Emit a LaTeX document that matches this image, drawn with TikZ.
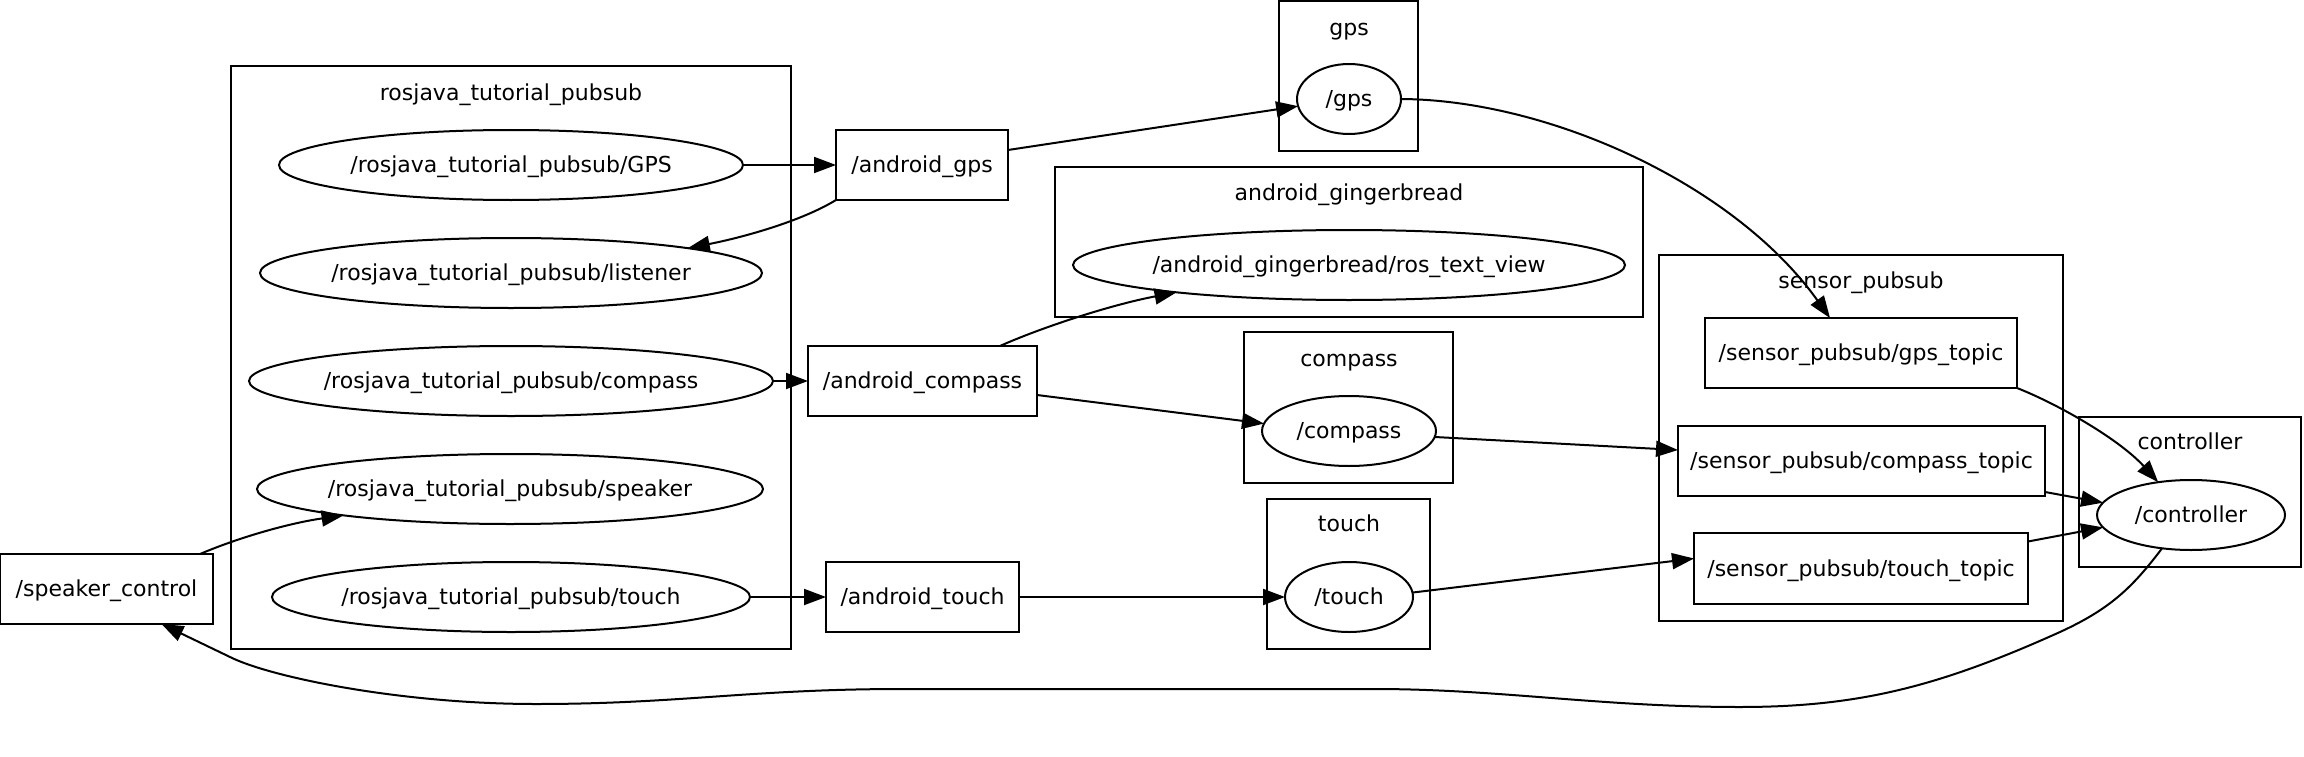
\documentclass[tikz,border=0pt]{standalone}
\usepackage{fontspec}
\setmainfont{DejaVu Sans}
\usetikzlibrary{arrows.meta,shapes.geometric}
\newcommand\gvfont{\fontsize{22}{26}\selectfont}
\tikzset{
  box/.style={draw, rectangle, line width=2pt, inner sep=0pt, outer sep=0pt, minimum height=70pt, text height=20pt, text depth=5pt, font=\gvfont},
  topic/.style={draw, ellipse, line width=2pt, inner xsep=-20pt, inner ysep=0pt, outer sep=0pt, minimum height=70pt, text height=20pt, text depth=5pt, font=\gvfont},
  edge/.style={line width=2pt, -{Triangle[length=22pt,width=16pt]}},
  clus/.style={draw, line width=2pt},
  clabel/.style={font=\gvfont, inner sep=0pt, text height=20pt, text depth=5pt}
}
\begin{document}
\begin{tikzpicture}[x=1pt,y=-1pt]
\useasboundingbox (0,0) rectangle (2304,757);
% clusters
\draw[clus] (231,66) rectangle (791,649);
\node[clabel] (lrj) at (511,93) {rosjava\_tutorial\_pubsub};
\draw[clus] (1279,1) rectangle (1418,151);
\node[clabel] (lgps) at (1349,28) {gps};
\draw[clus] (1055,167) rectangle (1643,317);
\node[clabel] (lag) at (1349,193) {android\_gingerbread};
\draw[clus] (1244,332) rectangle (1453,483);
\node[clabel] (lcmp) at (1349,359) {compass};
\draw[clus] (1267,499) rectangle (1430,649);
\node[clabel] (ltch) at (1349,524) {touch};
\draw[clus] (1659,255) rectangle (2063,621);
\node[clabel] (lsp) at (1861,281) {sensor\_pubsub};
\draw[clus] (2079,417) rectangle (2301,567);
\node[clabel] (lctl) at (2190,442) {controller};
% nodes
\node[topic, minimum width=464pt] (GPSe) at (511,165) {/rosjava\_tutorial\_pubsub/GPS};
\node[topic, minimum width=502pt] (listener) at (511,273) {/rosjava\_tutorial\_pubsub/listener};
\node[topic, minimum width=524pt] (compassE) at (511,381) {/rosjava\_tutorial\_pubsub/compass};
\node[topic, minimum width=506pt] (speaker) at (510,489) {/rosjava\_tutorial\_pubsub/speaker};
\node[topic, minimum width=478pt] (touchE) at (511,597) {/rosjava\_tutorial\_pubsub/touch};
\node[box, minimum width=213pt] (sc) at (106.5,589) {/speaker\_control};
\node[box, minimum width=172pt] (agps) at (922,165) {/android\_gps};
\node[box, minimum width=229pt] (acomp) at (922.5,381) {/android\_compass};
\node[box, minimum width=193pt] (atouch) at (922.5,597) {/android\_touch};
\node[topic, minimum width=104pt] (gpsN) at (1349,99) {/gps};
\node[topic, minimum width=552pt] (rosText) at (1349,265) {/android\_gingerbread/ros\_text\_view};
\node[topic, minimum width=174pt] (compassN) at (1349,431) {/compass};
\node[topic, minimum width=128pt] (touchN) at (1349,597) {/touch};
\node[box, minimum width=312pt] (gpsT) at (1861,353) {/sensor\_pubsub/gps\_topic};
\node[box, minimum width=367pt] (cT) at (1861.5,461) {/sensor\_pubsub/compass\_topic};
\node[box, minimum width=334pt, minimum height=71pt] (tT) at (1861,568.5) {/sensor\_pubsub/touch\_topic};
\node[topic, minimum width=188pt] (ctrl) at (2191,515) {/controller};
% edges
\draw[edge] (GPSe.east) -- (agps.west);
\draw[edge] (agps.south west) .. controls (800,222) and (740,238) .. (listener.8);
\draw[edge] (compassE.east) -- (acomp.west);
\draw[edge] ([xshift=-13pt]sc.north east) .. controls (240,537) and (290,523) .. (speaker.189);
\draw[edge] (touchE.east) -- (atouch.west);
\draw[edge] ([yshift=15pt]agps.east) -- (gpsN.188);
\draw[edge] ([xshift=-37pt]acomp.north east) .. controls (1040,328) and (1110,305) .. (rosText.189);
\draw[edge] ([yshift=-14pt]acomp.east) -- (compassN.175);
\draw[edge] (gpsN.east) .. controls (1550,100) and (1735,185) .. ([xshift=-31pt]gpsT.north);
\draw[edge] (compassN.-4) -- ([yshift=11pt]cT.west);
\draw[edge] (gpsT.south east) .. controls (2060,405) and (2120,440) .. (ctrl.135);
\draw[edge] ([yshift=-31pt]cT.east) -- (ctrl.172);
\draw[edge] ([yshift=27pt]tT.east) -- (ctrl.188);
\draw[edge] (touchN.4) -- ([yshift=10pt]tT.west);
\draw[edge] (atouch.east) -- (touchN.west);
\draw[edge] (ctrl.-131) .. controls (2132,588) and (2110,609) .. (2060,632)
  .. controls (1940,686) and (1860,707) .. (1740,707)
  .. controls (1600,707) and (1500,689) .. (1374,689) -- (903,689)
  .. controls (750,689) and (680,704) .. (536,704)
  .. controls (400,704) and (270,677) .. (230,657) -- ([xshift=55pt]sc.south);
\end{tikzpicture}
\end{document}
